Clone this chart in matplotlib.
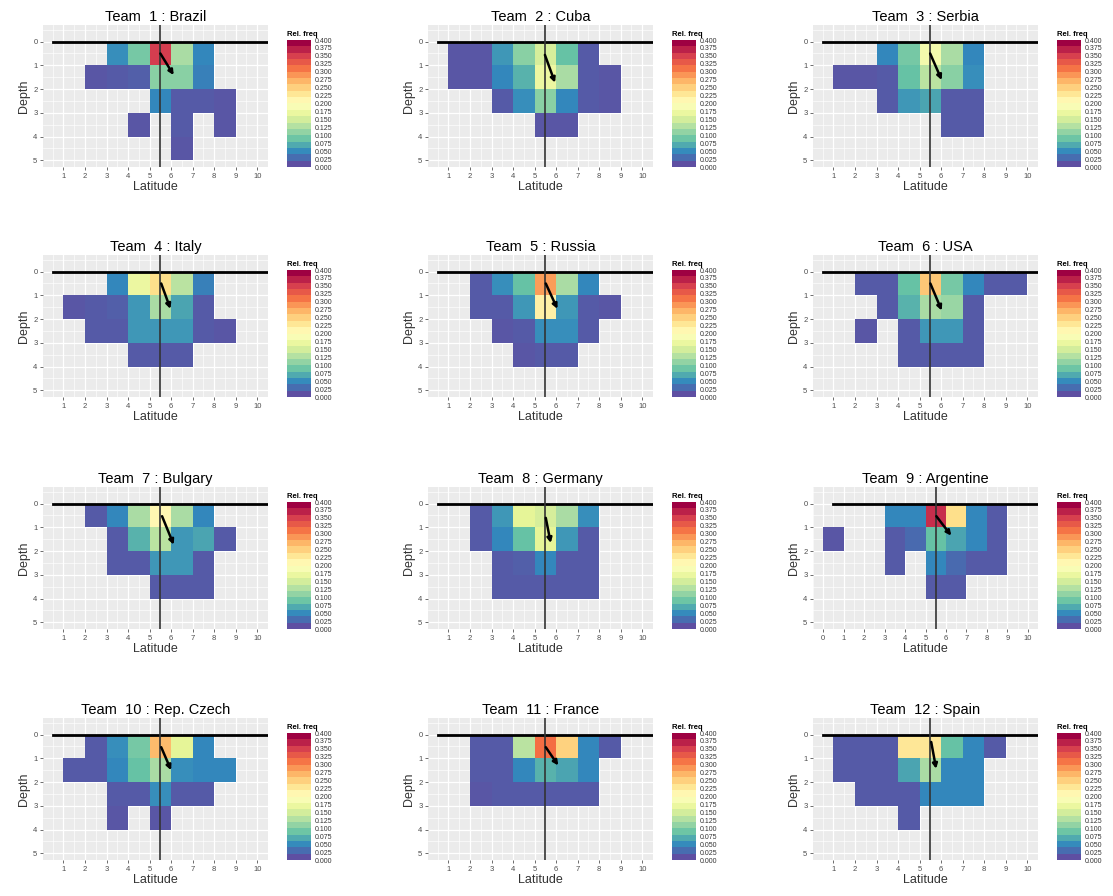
import numpy as np
import matplotlib
matplotlib.use('Agg')
import matplotlib.pyplot as plt
from matplotlib.colors import Normalize
import matplotlib.cm as cm

plt.rcParams['font.family'] = ['Liberation Sans', 'DejaVu Sans']

_ = None  # empty cell

teams = ['Brazil', 'Cuba', 'Serbia', 'Italy', 'Russia', 'USA',
         'Bulgary', 'Germany', 'Argentine', 'Rep. Czech', 'France', 'Spain']

# relative frequencies, rows = depth 0..4, cols = latitude cell 0..9
brazil = [[_, _, _, .045, .09, .36, .12, .04, _, _],
          [_, _, .005, .008, .012, .10, .10, .035, _, _],
          [_, _, _, _, _, .04, .008, .008, .005, _],
          [_, _, _, _, .005, _, .008, _, .005, _],
          [_, _, _, _, _, _, .005, _, _, _]]
cuba = [[_, .005, .005, .05, .10, .15, .08, .008, _, _],
        [_, .005, .005, .04, .07, .17, .12, .008, .005, _],
        [_, _, _, .008, .045, .10, .04, .008, .005, _],
        [_, _, _, _, _, .005, .005, _, _, _]]
serbia = [[_, _, _, .04, .09, .18, .12, .04, _, _],
          [_, .005, .005, .008, .08, .13, .10, .045, _, _],
          [_, _, _, .008, .05, .06, .008, .008, _, _],
          [_, _, _, _, _, _, .008, .008, _, _]]
italy = [[_, _, _, .04, .17, .24, .13, .035, _, _],
         [_, .005, .008, .012, .05, .12, .06, .008, _, _],
         [_, _, .008, .008, .05, .05, .05, .008, .005, _],
         [_, _, _, _, .008, .008, .008, _, _, _]]
russia = [[_, _, .008, .045, .08, .29, .12, .04, _, _],
          [_, _, .008, .008, .05, .22, .05, .008, .005, _],
          [_, _, _, .005, .008, .045, .045, .008, _, _],
          [_, _, _, _, .005, .008, .008, _, _, _]]
usa = [[_, _, .008, .008, .08, .26, .09, .04, .008, .008],
       [_, _, _, .008, .07, .12, .11, .008, _, _],
       [_, _, .005, _, .008, .05, .05, .008, _, _],
       [_, _, _, _, .008, .008, .008, .008, _, _]]
bulgary = [[_, _, .008, .04, .12, .21, .12, .04, _, _],
           [_, _, _, .008, .07, .13, .05, .06, .008, _],
           [_, _, _, .008, .008, .05, .05, .008, _, _],
           [_, _, _, _, _, .008, .008, .008, _, _]]
germany = [[_, _, .008, .05, .16, .15, .12, .045, _, _],
           [_, _, .008, .04, .08, .16, .05, .008, _, _],
           [_, _, _, .008, .012, .04, .008, .008, _, _],
           [_, _, _, .008, .008, .008, .008, .008, _, _]]
argentine = [[_, _, _, .04, .04, .37, .24, .04, .008, _],
             [.005, _, _, .008, .02, .08, .06, .04, .008, _],
             [_, _, _, .008, _, .04, .02, .008, .008, _],
             [_, _, _, _, _, .008, .008, _, _, _]]
czech = [[_, _, .008, .045, .09, .27, .16, .04, _, _],
         [_, .008, .008, .04, .08, .12, .045, .04, .04, _],
         [_, _, _, .008, .008, .045, .008, .008, _, _],
         [_, _, _, .005, _, .005, _, _, _, _]]
france = [[_, _, .008, .008, .13, .32, .25, .04, .008, _],
          [_, _, .008, .008, .04, .07, .06, .04, _, _],
          [_, _, .005, .008, .008, .008, .008, .008, _, _]]
spain = [[_, .008, .008, .008, .23, .23, .08, .04, .008, _],
         [_, .008, .008, .008, .06, .12, .04, .04, _, _],
         [_, _, .008, .008, .008, .04, .04, .04, _, _],
         [_, _, _, _, .008, _, _, _, _, _]]
grids = [brazil, cuba, serbia, italy, russia, usa,
         bulgary, germany, argentine, czech, france, spain]

# mean direction arrows
arrow_x0 = [5.5, 5.48, 5.49, 5.54, 5.52, 5.5, 5.58, 5.52, 5.53, 5.54, 5.52, 5.54]
arrow_y0 = [0.5, 0.56, 0.5, 0.5, 0.5, 0.5, 0.53, 0.6, 0.53, 0.53, 0.53, 0.31]
arrow_x1 = [6.12, 5.95, 6.03, 5.97, 6.06, 6.03, 6.12, 5.75, 6.26, 6.0, 6.1, 5.77]
arrow_y1 = [1.41, 1.73, 1.62, 1.57, 1.57, 1.64, 1.73, 1.66, 1.35, 1.5, 1.3, 1.44]

cb_ticks = np.arange(0, 0.4001, 0.025)

W, H = 1113, 896
fig = plt.figure(figsize=(W / 100, H / 100), dpi=100)
col_left = [43, 428, 813]
row_top = [25, 255, 487, 718]
pw, ph = 225, 142

cmap = plt.get_cmap('Spectral_r')
norm = Normalize(0, 0.4)

for i, (name, grid) in enumerate(zip(teams, grids)):
    r, c = divmod(i, 3)
    left, top = col_left[c], row_top[r]
    ax = fig.add_axes([left / W, 1 - (top + ph) / H, pw / W, ph / H])
    ax.set_facecolor('#EBEBEB')

    z = np.ma.masked_invalid(np.array(grid, dtype=float))
    ax.pcolormesh(np.arange(11), np.arange(z.shape[0] + 1), z,
                  cmap=cmap, norm=norm, zorder=2)

    ax.set_xticks(np.arange(-0.5, 10.6, 0.5), minor=True)
    ax.set_yticks(np.arange(-0.5, 5.3, 0.5), minor=True)
    ax.set_yticks(range(0, 6))
    if name == 'Argentine':
        ax.set_xticks(range(0, 11))
        ax.set_xlim(-0.5, 10.5)
    else:
        ax.set_xticks(range(1, 11))
        ax.set_xlim(0.05, 10.5)
    ax.set_ylim(5.28, -0.7)
    ax.grid(True, which='major', color='white', lw=0.9)
    ax.grid(True, which='minor', color='white', lw=0.45)
    ax.set_axisbelow(True)
    for s in ax.spines.values():
        s.set_visible(False)
    ax.tick_params(which='major', labelsize=5.5, labelcolor='#4D4D4D',
                   color='#333333', length=2, width=0.5, pad=2)
    ax.tick_params(which='minor', length=0)

    ax.plot([0.5, 10.5], [0, 0], color='black', lw=2, zorder=4)
    ax.axvline(5.5, color='#333333', lw=1.2, zorder=4)
    ax.annotate('', xy=(arrow_x1[i], arrow_y1[i]), xytext=(arrow_x0[i], arrow_y0[i]),
                arrowprops=dict(arrowstyle='-|>', color='black', lw=1.8,
                                mutation_scale=7, shrinkA=0, shrinkB=0),
                zorder=5)

    ax.set_title(f'Team  {i + 1} : {name}', fontsize=10.5, pad=3)
    ax.set_xlabel('Latitude', fontsize=9, labelpad=1, color='#333333')
    ax.set_ylabel('Depth', fontsize=9, labelpad=2, color='#333333')

    # colour bar
    cax = fig.add_axes([(left + pw + 19) / W, 1 - (top + ph) / H,
                        24 / W, (ph - 15) / H])
    sm = cm.ScalarMappable(norm=norm, cmap=plt.get_cmap('Spectral_r', 20))
    cb = fig.colorbar(sm, cax=cax, ticks=cb_ticks)
    cb.outline.set_visible(False)
    cb.ax.set_yticklabels([f'{t:.3f}' for t in cb_ticks])
    cb.ax.tick_params(labelsize=5, labelcolor='#333333', length=0, pad=3)
    cax.set_title('Rel. freq', fontsize=5.5, fontweight='bold', loc='left', pad=3)

fig.savefig('out.png', dpi=100)
